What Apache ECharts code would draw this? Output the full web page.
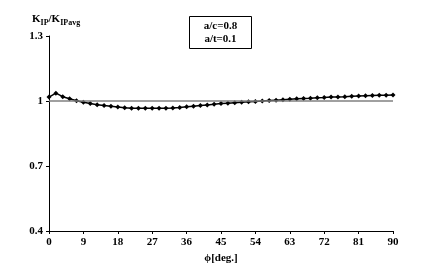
<!DOCTYPE html>
<html><head><meta charset="utf-8">
<script src="https://cdn.jsdelivr.net/npm/echarts@6/dist/echarts.min.js"></script>
<style>html,body{margin:0;padding:0;background:#fff}#c{width:422px;height:271px}</style>
</head><body><div id="c"></div>
<script>
const phiDeg = [0,1.8,3.6,5.4,7.2,9,10.8,12.6,14.4,16.2,18,19.8,21.6,23.4,25.2,27,28.8,30.6,32.4,34.2,36,37.8,39.6,41.4,43.2,45,46.8,48.6,50.4,52.2,54,55.8,57.6,59.4,61.2,63,64.8,66.6,68.4,70.2,72,73.8,75.6,77.4,79.2,81,82.8,84.6,86.4,88.2,90];
const kRatio = [1.018,1.036,1.020,1.010,1.001,0.994,0.988,0.983,0.979,0.976,0.972,0.969,0.967,0.966,0.966,0.966,0.966,0.967,0.968,0.970,0.973,0.976,0.979,0.982,0.985,0.988,0.990,0.992,0.994,0.996,0.998,1.000,1.002,1.004,1.006,1.008,1.010,1.012,1.013,1.015,1.016,1.018,1.019,1.020,1.022,1.023,1.024,1.025,1.026,1.027,1.028];
const refLevel = 1;
const xTicks = [0,9,18,27,36,45,54,63,72,81,90];
const yTicks = [0.4,0.7,1,1.3];
const boxLines = ['a/c=0.8','a/t=0.1'];

const F = '"Liberation Serif","DejaVu Serif",serif';
const chart = echarts.init(document.getElementById('c'));
chart.setOption({
  animation:false,
  backgroundColor:'#fff',
  grid:{left:49,right:29,top:36,bottom:40},
  xAxis:{type:'value',min:0,max:90,interval:9,
    name:'ϕ[deg.]',nameLocation:'middle',nameGap:21,
    nameTextStyle:{fontFamily:F,fontWeight:'bold',fontSize:11,color:'#000'},
    axisLine:{lineStyle:{color:'#000',width:1}},
    axisTick:{show:true,length:3,lineStyle:{color:'#000'}},
    axisLabel:{fontFamily:F,fontWeight:'bold',fontSize:11,color:'#000',margin:6,
      formatter:v=>xTicks.includes(v)?String(v):''},
    splitLine:{show:false}},
  yAxis:{type:'value',min:0.4,max:1.3,interval:0.3,
    axisLine:{show:true,lineStyle:{color:'#000',width:1}},
    axisTick:{show:true,length:3,lineStyle:{color:'#000'}},
    axisLabel:{fontFamily:F,fontWeight:'bold',fontSize:11,color:'#000',margin:6,
      formatter:v=>{const t=yTicks.find(y=>Math.abs(y-v)<1e-6);return t===undefined?'':String(t);}},
    splitLine:{show:false}},
  series:[{
    type:'line',
    data:phiDeg.map((p,i)=>[p,kRatio[i]]),
    symbol:'diamond',symbolSize:5,showSymbol:true,
    lineStyle:{color:'#000',width:1.5},
    itemStyle:{color:'#000'},
    z:3,
    markLine:{silent:true,symbol:'none',label:{show:false},
      lineStyle:{color:'#808080',width:1.5,type:'solid'},
      data:[[{coord:[0,refLevel]},{coord:[90,refLevel]}]]}
  }],
  graphic:[
    {type:'text',left:32,top:14,style:{
      text:'{b|K}{s|IP}{b|/K}{s|IPavg}',
      rich:{b:{fontFamily:F,fontWeight:'bold',fontSize:11,fill:'#000'},
            s:{fontFamily:F,fontWeight:'bold',fontSize:8,fill:'#000',padding:[6,0,0,0]}}}},
    {type:'rect',shape:{x:189.5,y:16.5,width:62,height:32},
      style:{fill:'#fff',stroke:'#000',lineWidth:1}},
    {type:'text',x:220.5,y:32.5,style:{text:boxLines.join('\n'),
      fontFamily:F,fontWeight:'bold',fontSize:11,fill:'#000',align:'center',verticalAlign:'middle',lineHeight:13}}
  ]
});
</script></body></html>
